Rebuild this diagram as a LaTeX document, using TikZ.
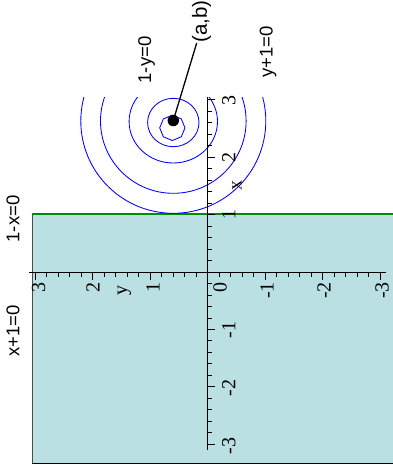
\documentclass[tikz,border=0pt]{standalone}
\usepackage{fontspec}
\setmainfont{Liberation Serif}
\newfontfamily\labelfont{Liberation Sans}
\definecolor{regionfill}{RGB}{187,224,227}
\definecolor{linegreen}{RGB}{0,140,0}
\begin{document}
\begin{tikzpicture}[x=1pt,y=-1pt,
  ticklbl/.style={font=\fontsize{20}{20}\selectfont, rotate=90, inner sep=0pt},
  eqlbl/.style={font=\labelfont\fontsize{18.5}{18.5}\selectfont, rotate=90, inner sep=0pt},
  contour/.style={blue, line width=0.85pt},
  axisline/.style={black, line width=0.9pt},
  tickline/.style={black, line width=0.8pt}]
\useasboundingbox (0,0) rectangle (393,475);
% feasible region
\fill[regionfill] (32,214) rectangle (393,463);
\draw[black!70, line width=0.9pt] (32,214) -- (32,463);
\draw[black, line width=0.9pt] (32,463) -- (393,463);
\draw[linegreen, line width=1.1pt] (32,214) -- (393,214);
% contours
\begin{scope}
\clip (0,97) rectangle (393,475);
\draw[contour] (173.3,121) ellipse [x radius=92.5, y radius=92.3];
\draw[contour] (173.3,121) ellipse [x radius=72.8, y radius=72.3];
\draw[contour] (173.3,121.5) ellipse [x radius=44.2, y radius=41.5];
\draw[contour] (173.3,122.5) ellipse [x radius=25.7, y radius=24.2];
\draw[contour] (173.3,123) ++(22.5:12.66) -- ++(112.5:9.69)
  \foreach \k in {1,...,7} { -- ++({112.5+45*\k}:9.69)} -- cycle;
\end{scope}
% axes
\draw[axisline] (207.7,97) -- (207.7,450);
\draw[axisline] (29,272) -- (386,272);
\foreach \i in {-15,...,15}{
  \pgfmathsetmacro\len{mod(\i,5)==0 ? 7.5 : 4.5}
  \draw[tickline] (207.7,272-\i*11.48) -- ++(\len,0);
  \draw[tickline] (207.7-\i*11.5,272) -- ++(0,\len);
}
% y tick labels (screen horizontal axis)
\node[ticklbl, anchor=east] (ly3) at (38.5,282) {3};
\node[ticklbl, anchor=east] (ly2) at (93,282) {2};
\node[ticklbl, anchor=east] (ly1) at (153,282) {1};
\node[ticklbl, anchor=east] (ly0) at (220,282) {0};
\node[ticklbl, anchor=east] (lym1) at (267,282) {-1};
\node[ticklbl, anchor=east] (lym2) at (324,282) {-2};
\node[ticklbl, anchor=east] (lym3) at (382,282) {-3};
% x tick labels (screen vertical axis)
\node[ticklbl, anchor=north] (lx3) at (222,100) {3};
\node[ticklbl, anchor=north] (lx2) at (222,157) {2};
\node[ticklbl, anchor=north] (lx1) at (222,214) {1};
\node[ticklbl, anchor=north] (lxm1) at (222,330) {-1};
\node[ticklbl, anchor=north] (lxm2) at (222,388) {-2};
\node[ticklbl, anchor=north] (lxm3) at (222,446) {-3};
% axis names
\node[ticklbl] (xname) at (237,185) {x};
\node[ticklbl] (yname) at (124.5,290) {y};
% constraint labels
\node[eqlbl] (c1) at (146.7,60) {1-y=0};
\node[eqlbl] (c2) at (268,52) {y+1=0};
\node[eqlbl] (c3) at (13,219) {1-x=0};
\node[eqlbl] (c4) at (13,331) {x+1=0};
% point (a,b)
\node[eqlbl, anchor=west, font=\labelfont\fontsize{20.5}{20.5}\selectfont] (ab) at (201.5,43) {(a,b)};
\coordinate (lend) at (196.7,43);
\node[circle, fill=black, inner sep=0pt, minimum size=11.5pt] (dot) at (173.3,120.5) {};
\draw[black, line width=1.3pt] (dot.center) -- (lend);
\end{tikzpicture}
\end{document}
